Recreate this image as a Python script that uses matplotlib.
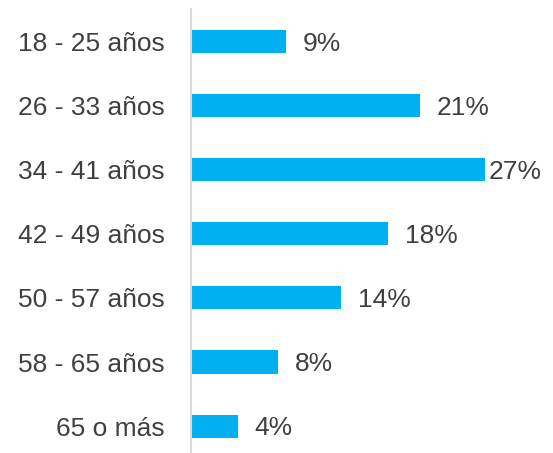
import matplotlib
matplotlib.use('Agg')
import matplotlib.pyplot as plt

categorias = ['18 - 25 años', '26 - 33 años', '34 - 41 años', '42 - 49 años',
              '50 - 57 años', '58 - 65 años', '65 o más']
valores = [8.7, 21.0, 27.0, 18.1, 13.8, 8.0, 4.3]
etiquetas = ['9%', '21%', '27%', '18%', '14%', '8%', '4%']

plt.rcParams['font.family'] = ['Liberation Sans', 'DejaVu Sans']

fig = plt.figure(figsize=(5.53, 4.53), dpi=100)
ax = fig.add_axes([191/553, 0, 327/553, 444/453])

ax.barh(range(len(categorias)), valores, height=0.36, color='#00B0F0')
for i, (v, t) in enumerate(zip(valores, etiquetas)):
    # Excel pushes the last label in against the bar end when space runs out
    xpos = min(v + 1.55, 27.35)
    ax.text(xpos, i + 0.03, t, va='center', ha='left', fontsize=19, color='#404040')

ax.set_xlim(0, 30)
ax.set_ylim(6.42, -0.51)
ax.set_yticks(range(len(categorias)))
ax.set_yticklabels(categorias, fontsize=19, color='#404040')
ax.tick_params(axis='y', length=0, pad=19)
ax.set_xticks([])
for s in ['top', 'right', 'bottom']:
    ax.spines[s].set_visible(False)
ax.spines['left'].set_color('#D9D9D9')
ax.spines['left'].set_linewidth(1.5)

plt.savefig('out.png', dpi=100)
